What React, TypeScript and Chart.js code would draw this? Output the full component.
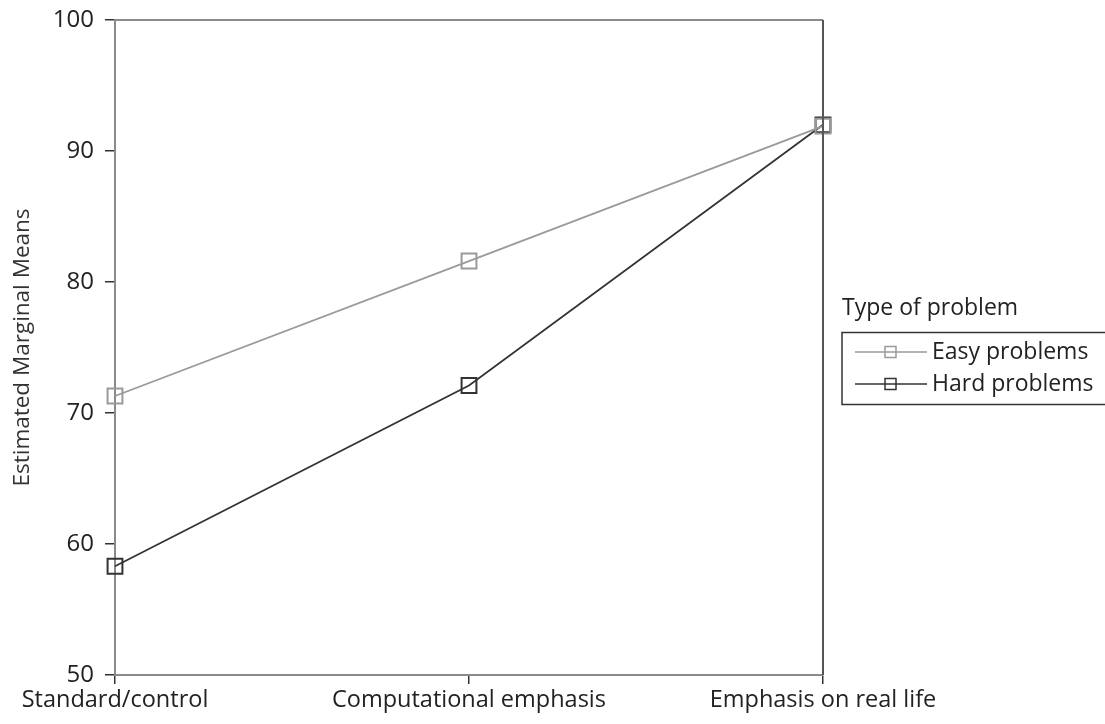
import React, { useEffect, useRef } from "react";
import { Chart, registerables } from "chart.js";

Chart.register(...registerables);

const categories = ["Standard/control", "Computational emphasis", "Emphasis on real life"];
const easyValues = [71.3, 81.6, 91.9];
const hardValues = [58.3, 72.1, 92.0];
const yTicks = [50, 60, 70, 80, 90, 100];
const legendTitle = "Type of problem";
const seriesNames = ["Easy problems", "Hard problems"];
const seriesColors = ["#9a9a9a", "#333333"];

const FONT = "'Open Sans', 'Noto Sans', sans-serif";

const framePlugin = {
  id: "frame",
  afterDraw(chart: any) {
    const { ctx, chartArea } = chart;
    ctx.save();
    ctx.lineWidth = 2;
    ctx.strokeStyle = "#8a8a8a";
    ctx.beginPath();
    ctx.moveTo(chartArea.left, chartArea.top);
    ctx.lineTo(chartArea.right, chartArea.top);
    ctx.stroke();
    ctx.strokeStyle = "#555555";
    ctx.beginPath();
    ctx.moveTo(chartArea.right, chartArea.top);
    ctx.lineTo(chartArea.right, chartArea.bottom);
    ctx.stroke();
    ctx.restore();
  },
};

const legendPlugin = {
  id: "customLegend",
  afterDraw(chart: any) {
    const { ctx, chartArea } = chart;
    const x0 = chartArea.right + 19;
    ctx.save();
    ctx.font = `23px ${FONT}`;
    ctx.fillStyle = "#222";
    ctx.textBaseline = "middle";
    ctx.textAlign = "left";
    ctx.fillText(legendTitle, x0, 308);
    ctx.strokeStyle = "#333";
    ctx.lineWidth = 1.5;
    ctx.strokeRect(x0, 332.5, 300, 72);
    const ys = [352, 384];
    seriesNames.forEach((name, i) => {
      const y = ys[i];
      ctx.strokeStyle = seriesColors[i];
      ctx.lineWidth = 1.5;
      ctx.beginPath();
      ctx.moveTo(x0 + 13, y);
      ctx.lineTo(x0 + 85, y);
      ctx.stroke();
      ctx.strokeRect(x0 + 43, y - 5.5, 11, 11);
      ctx.fillStyle = "#222";
      ctx.fillText(name, x0 + 90, y);
    });
    ctx.restore();
  },
};

export default function App() {
  const ref = useRef<HTMLCanvasElement>(null);
  useEffect(() => {
    if (!ref.current) return;
    const chart = new Chart(ref.current, {
      type: "line",
      data: {
        labels: categories,
        datasets: [
          {
            label: seriesNames[0],
            data: easyValues,
            borderColor: seriesColors[0],
            backgroundColor: "transparent",
            borderWidth: 1.8,
            pointStyle: "rect",
            pointRadius: 10.5,
            pointBorderWidth: 2,
            pointBorderColor: seriesColors[0],
            pointBackgroundColor: "transparent",
            tension: 0,
            clip: false,
          },
          {
            label: seriesNames[1],
            data: hardValues,
            borderColor: seriesColors[1],
            backgroundColor: "transparent",
            borderWidth: 1.8,
            pointStyle: "rect",
            pointRadius: 10.5,
            pointBorderWidth: 2,
            pointBorderColor: seriesColors[1],
            pointBackgroundColor: "transparent",
            tension: 0,
            clip: false,
          },
        ],
      },
      options: {
        animation: false,
        responsive: false,
        maintainAspectRatio: false,
        layout: { padding: { top: 20, right: 282, left: 0, bottom: 0 } },
        plugins: { legend: { display: false }, tooltip: { enabled: false } },
        scales: {
          x: {
            type: "category",
            offset: false,
            grid: { drawOnChartArea: false, tickLength: 9, color: "#333", lineWidth: 1.5 },
            border: { color: "#8a8a8a", width: 2 },
            ticks: { font: { family: FONT, size: 23.5 }, color: "#222", padding: 2, maxRotation: 0, autoSkip: false },
            afterFit(scale: any) {
              scale.height = 49;
              scale.paddingLeft = 0;
              scale.paddingRight = 0;
            },
          },
          y: {
            min: 50,
            max: 100,
            afterBuildTicks(scale: any) {
              scale.ticks = yTicks.map((v) => ({ value: v }));
            },
            grid: { drawOnChartArea: false, tickLength: 10, color: "#333", lineWidth: 1.5 },
            border: { color: "#8a8a8a", width: 2 },
            ticks: { font: { family: FONT, size: 24 }, color: "#222", padding: 11 },
            title: {
              display: true,
              text: "Estimated Marginal Means",
              font: { family: FONT, size: 22.5 },
              color: "#333",
              padding: { top: 9, bottom: 0 },
            },
            afterFit(scale: any) {
              scale.width = 115;
              scale.paddingTop = 0;
              scale.paddingBottom = 0;
            },
          },
        },
      },
      plugins: [framePlugin, legendPlugin],
    });
    return () => chart.destroy();
  }, []);
  return (
    <div style={{ position: "fixed", left: 0, top: 0, width: 1105, height: 724, background: "#fff" }}>
      <canvas ref={ref} width={1105} height={724} style={{ width: 1105, height: 724 }} />
    </div>
  );
}
